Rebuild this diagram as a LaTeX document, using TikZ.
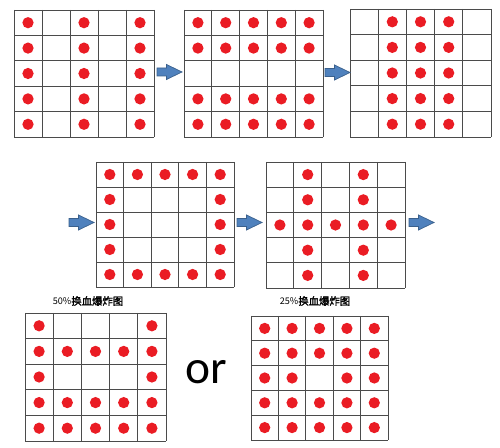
\documentclass[tikz,border=0pt]{standalone}
\usepackage{fontspec}
\newfontfamily\cjkfont[AutoFakeBold=1.6]{Noto Sans CJK SC}
\newfontfamily\orfont{Carlito}

\definecolor{dotred}{RGB}{234,28,36}
\definecolor{arrowblue}{RGB}{79,129,189}
\definecolor{arrowedge}{RGB}{58,96,140}
\definecolor{gridgray}{RGB}{75,75,75}

\tikzset{
  cell/.style={draw=gridgray, line width=0.55pt},
  reddot/.style={circle, fill=dotred, inner sep=0pt, minimum size=0.225cm},
  caption/.style={font=\cjkfont\fontsize{5.9}{7}\selectfont, inner sep=0pt},
  blockarrow/.pic={
    \filldraw[fill=arrowblue, draw=arrowedge, line width=0.4pt]
      (-12.5,-4) -- (-3,-4) -- (-3,-7.5) -- (12.5,0) -- (-3,7.5) -- (-3,4) -- (-12.5,4) -- cycle;
  }
}

% #1 name, #2/#3 top left corner, #4/#5 cell size, #6 row/col of the dots
\newcommand{\dotgrid}[6]{%
  \begin{scope}[shift={(#2,#3)}, xscale=#4, yscale=#5]
    \foreach \i in {0,...,5} {
      \draw[cell] (\i,0) -- (\i,5);
      \draw[cell] (0,\i) -- (5,\i);
    }
    \foreach \r/\c in {#6}
      \node[reddot] (#1-\r-\c) at (\c-0.5,\r-0.5) {};
  \end{scope}}

\begin{document}
\begin{tikzpicture}[x=0.02cm, y=-0.02cm]
  \useasboundingbox (0,0) rectangle (500,448);

  % first row
  \dotgrid{ga}{14}{10}{28}{25.4}{1/1,1/3,1/5,2/1,2/3,2/5,3/1,3/3,3/5,4/1,4/3,4/5,5/1,5/3,5/5}
  \dotgrid{gb}{184}{10}{27.8}{25.4}{1/1,1/2,1/3,1/4,1/5,2/1,2/2,2/3,2/4,2/5,4/1,4/2,4/3,4/4,4/5,5/1,5/2,5/3,5/4,5/5}
  \dotgrid{gc}{350}{9}{28.2}{25.6}{1/2,1/3,1/4,2/2,2/3,2/4,3/2,3/3,3/4,4/2,4/3,4/4,5/2,5/3,5/4}
  \pic at (169.5,72) {blockarrow};
  \pic at (337.5,72.5) {blockarrow};

  % second row
  \dotgrid{gd}{96}{162}{27.6}{25}{1/1,1/2,1/3,1/4,1/5,2/1,2/5,3/1,3/5,4/1,4/5,5/1,5/2,5/3,5/4,5/5}
  \dotgrid{ge}{266}{162}{27.8}{25.2}{1/2,1/4,2/2,2/4,3/1,3/2,3/3,3/4,3/5,4/2,4/4,5/2,5/4}
  \pic at (81.5,222.5) {blockarrow};
  \pic at (249.5,222.5) {blockarrow};
  \pic at (421.5,222.5) {blockarrow};

  % third row
  \node[caption] (half) at (88,301) {{\fontsize{5.2}{7}\selectfont 50\%}{\bfseries 换血爆炸图}};
  \node[caption] (quarter) at (315,301) {{\fontsize{5.2}{7}\selectfont 25\%}{\bfseries 换血爆炸图}};
  \dotgrid{gf}{25}{313}{28.2}{25.6}{1/1,1/5,2/1,2/2,2/3,2/4,2/5,3/1,3/5,4/1,4/2,4/3,4/4,4/5,5/1,5/2,5/3,5/4,5/5}
  \dotgrid{gg}{251}{316}{27.4}{24.8}{1/1,1/2,1/3,1/4,1/5,2/1,2/2,2/3,2/4,2/5,3/1,3/2,3/4,3/5,4/1,4/2,4/3,4/4,4/5,5/1,5/2,5/3,5/4,5/5}
  \node[font=\orfont\fontsize{27}{30}\selectfont, inner sep=0pt] (or) at (206,372) {or};
\end{tikzpicture}
\end{document}
